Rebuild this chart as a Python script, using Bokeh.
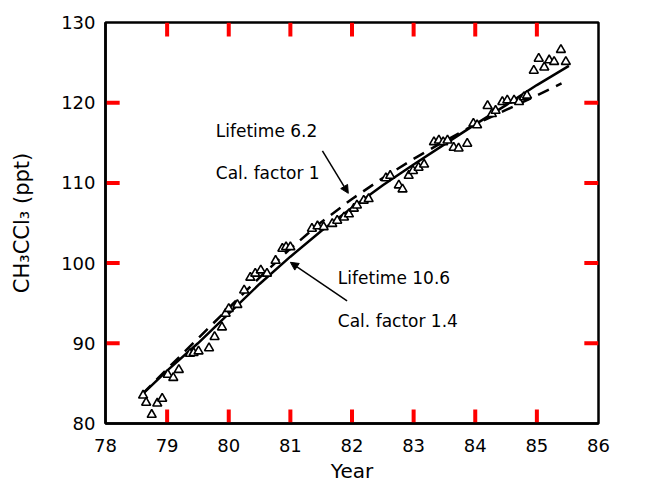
from bokeh.plotting import figure
from bokeh.models import FixedTicker, Label, Arrow, NormalHead, ColumnDataSource
from bokeh.embed import file_html
from bokeh.resources import INLINE

# Observed CH3CCl3 (ppt)
year = [78.61, 78.66, 78.75, 78.84, 78.92, 79.01, 79.10, 79.19, 79.37, 79.43,
        79.51, 79.68, 79.77, 79.89, 79.95, 80.00, 80.14, 80.25, 80.35, 80.43,
        80.52, 80.62, 80.76, 80.87, 80.93, 81.00, 81.35, 81.44, 81.54, 81.68,
        81.76, 81.87, 81.95, 82.03, 82.08, 82.19, 82.27, 82.55, 82.62, 82.76,
        82.82, 82.92, 82.99, 83.08, 83.17, 83.33, 83.41, 83.48, 83.55, 83.65,
        83.73, 83.87, 83.97, 84.03, 84.20, 84.27, 84.33, 84.44, 84.52, 84.63,
        84.71, 84.79, 84.84, 84.95, 85.03, 85.12, 85.20, 85.28, 85.39, 85.47]
ch3ccl3 = [83.5, 82.6, 81.1, 82.5, 83.1, 86.1, 85.7, 86.7, 88.7, 88.8,
           89.0, 89.4, 90.8, 92.0, 93.7, 94.3, 94.8, 96.6, 98.2, 98.7,
           99.1, 98.7, 100.3, 101.8, 102.0, 102.0, 104.3, 104.6, 104.5, 104.9,
           105.3, 105.7, 106.1, 106.8, 107.2, 107.8, 108.0, 110.6, 110.9, 109.7,
           109.2, 110.9, 111.5, 111.9, 112.3, 115.1, 115.3, 115.1, 115.3, 114.4,
           114.3, 114.9, 117.4, 117.2, 119.6, 118.6, 119.0, 120.1, 120.3, 120.3,
           120.1, 120.7, 120.9, 124.0, 125.5, 124.4, 125.3, 125.1, 126.6, 125.1]

# Model: lifetime 10.6, cal. factor 1.4 (solid)
fit_year_a = [78.58, 79.0, 79.5, 80.0, 80.5, 81.0, 81.5, 82.0, 82.5, 83.0, 83.5, 84.0, 84.5, 85.0, 85.52]
fit_lt106 = [83.5, 86.6, 90.0, 93.7, 97.4, 100.8, 104.0, 106.9, 109.7, 112.3, 114.8, 117.3, 119.7, 122.2, 124.6]
# Model: lifetime 6.2, cal. factor 1 (dashed)
fit_year_b = [78.6, 79.0, 79.5, 80.0, 80.5, 81.0, 81.5, 82.0, 82.5, 83.0, 83.5, 84.0, 84.5, 85.0, 85.4]
fit_lt62 = [83.7, 86.8, 90.6, 94.4, 98.2, 101.8, 105.1, 108.0, 110.6, 113.0, 115.2, 117.3, 119.1, 120.9, 122.4]

x_ticks = [78, 79, 80, 81, 82, 83, 84, 85, 86]
y_ticks = [80, 90, 100, 110, 120, 130]

X0, X1, Y0, Y1 = 78.0, 86.0, 80.0, 130.0
FONT = "DejaVu Sans"

p = figure(width=649, height=485, x_range=(X0, X1), y_range=(Y0, Y1),
           output_backend="svg", toolbar_location=None,
           min_border_left=105, min_border_right=51, min_border_top=22, min_border_bottom=62)
p.grid.visible = False
p.outline_line_color = "black"
p.outline_line_width = 2.5

for ax in (p.xaxis[0], p.yaxis[0]):
    ax.major_tick_in = 0
    ax.major_tick_out = 0
    ax.minor_tick_in = 0
    ax.minor_tick_out = 0
    ax.axis_line_width = 2.5
    ax.major_label_text_font = FONT
    ax.major_label_text_font_size = "18px"
    ax.major_label_text_color = "black"
    ax.axis_label_text_font = FONT
    ax.axis_label_text_font_style = "normal"
    ax.axis_label_text_color = "black"

p.xaxis.ticker = FixedTicker(ticks=x_ticks)
p.yaxis.ticker = FixedTicker(ticks=y_ticks)
p.xaxis.axis_label = "Year"
p.xaxis.axis_label_text_font_size = "20px"
p.xaxis.major_label_standoff = 15
p.xaxis.axis_label_standoff = 4
p.yaxis.axis_label = "CH₃CCl₃ (ppt)"
p.yaxis.axis_label_text_font_size = "21px"
p.yaxis.major_label_standoff = 10
p.yaxis.axis_label_standoff = 24

# inward ticks on all four sides
tick_len_x = 0.23
tick_len_y = 1.75
tick_xs, tick_ys = [], []
for t in x_ticks[1:-1]:
    tick_xs += [[float(t), float(t)], [float(t), float(t)]]
    tick_ys += [[80.0, 80.0 + tick_len_y], [130.0, 130.0 - tick_len_y]]
for t in y_ticks[1:-1]:
    tick_xs += [[78.0, 78.0 + tick_len_x], [86.0, 86.0 - tick_len_x]]
    tick_ys += [[float(t), float(t)], [float(t), float(t)]]

src = ColumnDataSource(dict(x=year, y=ch3ccl3))
p.line(fit_year_a, fit_lt106, line_color="black", line_width=2.5)
p.line(fit_year_b, fit_lt62, line_color="black", line_width=2.5, line_dash="12 8")
p.scatter("x", "y", source=src, marker="triangle", size=9, fill_color="white",
          line_color="black", line_width=1.6)
p.multi_line(xs=tick_xs, ys=tick_ys, line_color="red", line_width=4)

lab_style = dict(text_font=FONT, text_font_size="17px", text_color="black", text_baseline="middle")
p.add_layout(Label(x=79.79, y=116.5, text="Lifetime 6.2", **lab_style))
p.add_layout(Label(x=79.79, y=111.2, text="Cal. factor 1", **lab_style))
p.add_layout(Label(x=81.77, y=98.1, text="Lifetime 10.6", **lab_style))
p.add_layout(Label(x=81.77, y=92.8, text="Cal. factor 1.4", **lab_style))

p.add_layout(Arrow(end=NormalHead(size=8, fill_color="black", line_color="black"),
                   x_start=81.52, y_start=114.0, x_end=81.94, y_end=108.7,
                   line_color="black", line_width=1.5))
p.add_layout(Arrow(end=NormalHead(size=8, fill_color="black", line_color="black"),
                   x_start=81.92, y_start=95.3, x_end=81.0, y_end=100.1,
                   line_color="black", line_width=1.5))

open("out.html", "w").write(file_html(p, INLINE))
